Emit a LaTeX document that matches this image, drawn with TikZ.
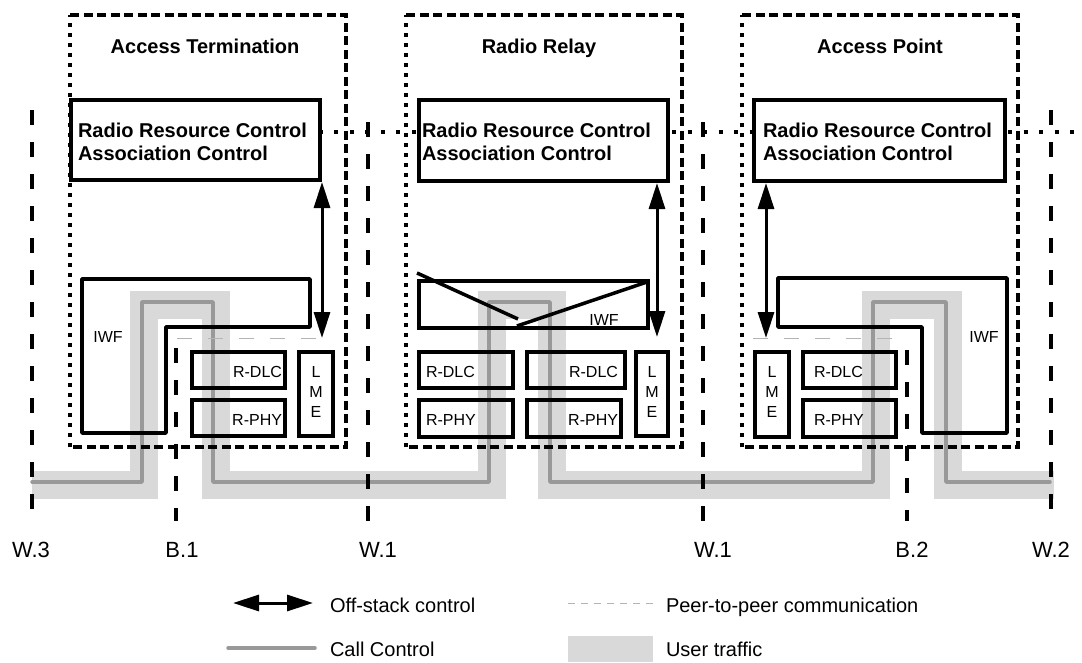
\documentclass[tikz,border=0pt]{standalone}
\usepackage{fontspec}
\setmainfont{Liberation Sans}
\usetikzlibrary{arrows.meta}
\definecolor{trafficc}{HTML}{D9D9D9}
\definecolor{callc}{HTML}{999999}
\definecolor{peerc}{HTML}{B4B4B4}
\newcommand{\mybox}[5]{\node[box, minimum width={(#4)-(#2)}, minimum height={(#5)-(#3)}] (#1) at ({((#2)+(#4))/2},{((#3)+(#5))/2}) {};}
\begin{document}
\begin{tikzpicture}[x=1pt, y=-1pt,
  box/.style={draw, line width=3.5pt, rectangle, inner sep=0pt, outer sep=0pt},
  iwfline/.style={line width=3.5pt, line join=round},
  outerdash/.style={line width=3.2pt, dash pattern=on 9pt off 4.5pt},
  outerdot/.style={line width=3.2pt, dash pattern=on 4pt off 6pt},
  refline/.style={line width=4pt, dash pattern=on 15pt off 17pt},
  rrcdots/.style={line width=4pt, dash pattern=on 4pt off 11.5pt},
  peerline/.style={peerc, line width=1pt, dash pattern=on 15pt off 16pt},
  ctrlline/.style={callc, line width=3.5pt, line join=round, line cap=round},
  trafficband/.style={trafficc, line width=28pt, line join=miter},
  offstack/.style={line width=3pt, {Triangle[length=26pt,width=16pt]}-{Triangle[length=26pt,width=16pt]}},
  lbl/.style={inner sep=0pt, outer sep=0pt, font=\fontsize{16}{19}\selectfont},
  ttl/.style={inner sep=0pt, outer sep=0pt, font=\fontsize{20}{24}\selectfont\bfseries},
  reflbl/.style={inner sep=0pt, outer sep=0pt, font=\fontsize{22}{26}\selectfont},
  leg/.style={inner sep=0pt, outer sep=0pt, font=\fontsize{20}{24}\selectfont}]
\fill[white] (0,0) rectangle (1082,662);
\useasboundingbox (0,0) rectangle (1082,662);

% user traffic band
\draw[trafficband] (32,484.5) -- (144,484.5) -- (144,304.5) -- (215.5,304.5) -- (215.5,484.5)
  -- (492,484.5) -- (492,304.5) -- (551.5,304.5) -- (551.5,484.5)
  -- (876,484.5) -- (876,304.5) -- (948,304.5) -- (948,484.5) -- (1054,484.5);
% call control
\draw[ctrlline] (32,482) -- (142,482) -- (142,302) -- (213,302) -- (213,482)
  -- (489,482) -- (489,302) -- (550,302) -- (550,482)
  -- (873,482) -- (873,302) -- (946,302) -- (946,482) -- (1050,482);

% peer-to-peer thin dashed
\coordinate (pA1) at (177,338); \coordinate (pA2) at (322,338);
\coordinate (pC1) at (753,338); \coordinate (pC2) at (897,338);
\draw[peerline] (pA1) -- (pA2);
\draw[peerline] (pC1) -- (pC2);

% ---------- Access Termination ----------
\mybox{rrcA}{71}{100}{320}{180}
\draw[iwfline] (82,279) -- (310,279) -- (310,327) -- (166,327) -- (166,433) -- (82,433) -- cycle;
\mybox{dlcA}{192}{352}{285}{388}
\mybox{phyA}{192}{400}{285}{436}
\mybox{lmeA}{299}{352}{333}{436}

% ---------- Radio Relay ----------
\mybox{rrcB}{419}{100}{668}{181}
\mybox{iwfB}{419}{281}{648}{328}
\draw[iwfline] (417,273) -- (518,319);
\draw[iwfline] (517,326) -- (647,282);
\mybox{dlcB1}{419}{352}{513}{388}
\mybox{phyB1}{419}{400}{513}{437}
\mybox{dlcB2}{527}{352}{625}{388}
\mybox{phyB2}{527}{400}{621}{437}
\mybox{lmeB}{636}{352}{668}{436}

% ---------- Access Point ----------
\mybox{rrcC}{754}{100}{1005}{181}
\draw[iwfline] (778,278) -- (1007,278) -- (1007,433) -- (922,433) -- (922,327) -- (778,327) -- cycle;
\mybox{lmeC}{755}{352}{789}{437}
\mybox{dlcC}{803}{352}{896}{388}
\mybox{phyC}{803}{400}{896}{437}

% outer dashed boxes
\draw[outerdot] (70,447) -- (70,15);
\draw[outerdash] (70,15) -- (346,15) -- (346,447) -- (70,447);
\draw[outerdot] (406,447) -- (406,15);
\draw[outerdash] (406,15) -- (682,15) -- (682,447) -- (406,447);
\draw[outerdot] (742,447) -- (742,15);
\draw[outerdash] (742,15) -- (1018,15) -- (1018,447) -- (742,447);

% reference points
\coordinate (w3t) at (32,110);   \coordinate (w3b) at (32,512);
\coordinate (b1t) at (176,348);  \coordinate (b1b) at (176,521);
\coordinate (w1at) at (368,122); \coordinate (w1ab) at (368,524);
\coordinate (w1bt) at (703,122); \coordinate (w1bb) at (703,524);
\coordinate (b2t) at (907,350);  \coordinate (b2b) at (907,521);
\coordinate (w2t) at (1051,110); \coordinate (w2b) at (1051,512);
\draw[refline] (w3t) -- (w3b);
\draw[refline] (b1t) -- (b1b);
\draw[refline] (w1at) -- (w1ab);
\draw[refline] (w1bt) -- (w1bb);
\draw[refline] (b2t) -- (b2b);
\draw[refline] (w2t) -- (w2b);

% peer-to-peer between RRC entities
\coordinate (dA1) at (322,132); \coordinate (dA2) at (419,132);
\coordinate (dB1) at (672,132); \coordinate (dB2) at (754,132);
\coordinate (dC1) at (1008,132); \coordinate (dC2) at (1082,132);
\draw[rrcdots, dash phase=3.5pt] (dA1) -- (dA2);
\draw[rrcdots] (dB1) -- (dB2);
\draw[rrcdots] (dC1) -- (dC2);

% off-stack control arrows
\coordinate (aA) at (322,338);
\coordinate (aB) at (657,337);
\coordinate (aC) at (766,338);
\draw[offstack, shorten <=2pt] (rrcA.south -| aA) -- (aA);
\draw[offstack, shorten <=2pt] (rrcB.south -| aB) -- (aB);
\draw[offstack, shorten <=2pt] (rrcC.south -| aC) -- (aC);

% texts
\node[ttl, anchor=base] (tA) at (205,53) {Access Termination};
\node[ttl, anchor=base] (tB) at (539,53) {Radio Relay};
\node[ttl, anchor=base] (tC) at (880,53) {Access Point};
\node[ttl, anchor=base west] (rA1) at (78,137) {Radio Resource Control};
\node[ttl, anchor=base west] (rA2) at (78,160) {Association Control};
\node[ttl, anchor=base west] (rB1) at (422,137) {Radio Resource Control};
\node[ttl, anchor=base west] (rB2) at (422,160) {Association Control};
\node[ttl, anchor=base west] (rC1) at (763,137) {Radio Resource Control};
\node[ttl, anchor=base west] (rC2) at (763,160) {Association Control};

\node[lbl, anchor=base] (iwfAt) at (108,342) {IWF};
\node[lbl, anchor=base east] (dlcAt) at (282,377) {R-DLC};
\node[lbl, anchor=base east] (phyAt) at (282,425) {R-PHY};
\node[lbl, anchor=base] (lA1) at (316,377) {L};
\node[lbl, anchor=base] (lA2) at (316,397) {M};
\node[lbl, anchor=base] (lA3) at (316,417) {E};

\node[lbl, anchor=base] (iwfBt) at (604,325) {IWF};
\node[lbl, anchor=base west] (dlcB1t) at (426,377) {R-DLC};
\node[lbl, anchor=base west] (phyB1t) at (426,425) {R-PHY};
\node[lbl, anchor=base east] (dlcB2t) at (618,377) {R-DLC};
\node[lbl, anchor=base east] (phyB2t) at (618,425) {R-PHY};
\node[lbl, anchor=base] (lB1) at (652,377) {L};
\node[lbl, anchor=base] (lB2) at (652,397) {M};
\node[lbl, anchor=base] (lB3) at (652,417) {E};

\node[lbl, anchor=base] (iwfCt) at (984,342) {IWF};
\node[lbl, anchor=base west] (dlcCt) at (814,377) {R-DLC};
\node[lbl, anchor=base west] (phyCt) at (814,425) {R-PHY};
\node[lbl, anchor=base] (lC1) at (772,377) {L};
\node[lbl, anchor=base] (lC2) at (772,397) {M};
\node[lbl, anchor=base] (lC3) at (772,417) {E};

\node[reflbl, anchor=base] (lw3) at (31,557) {W.3};
\node[reflbl, anchor=base] (lb1) at (182,557) {B.1};
\node[reflbl, anchor=base] (lw1a) at (378,557) {W.1};
\node[reflbl, anchor=base] (lw1b) at (713,557) {W.1};
\node[reflbl, anchor=base] (lb2) at (912,557) {B.2};
\node[reflbl, anchor=base] (lw2) at (1051,557) {W.2};

% legend
\coordinate (lgA1) at (233,603); \coordinate (lgA2) at (313,603);
\draw[offstack] (lgA1) -- (lgA2);
\node[leg, anchor=base west] (lgAt) at (330,612) {Off-stack control};
\coordinate (lgC1) at (228,648); \coordinate (lgC2) at (315,648);
\draw[ctrlline] (lgC1) -- (lgC2);
\node[leg, anchor=base west] (lgCt) at (330,656) {Call Control};
\coordinate (lgP1) at (568,603); \coordinate (lgP2) at (653,603);
\draw[peerc, line width=1pt, dash pattern=on 7pt off 6pt] (lgP1) -- (lgP2);
\node[leg, anchor=base west] (lgPt) at (666,612) {Peer-to-peer communication};
\fill[trafficc] (568,636) rectangle (653,662);
\node[leg, anchor=base west] (lgUt) at (666,656) {User traffic};
\end{tikzpicture}
\end{document}
